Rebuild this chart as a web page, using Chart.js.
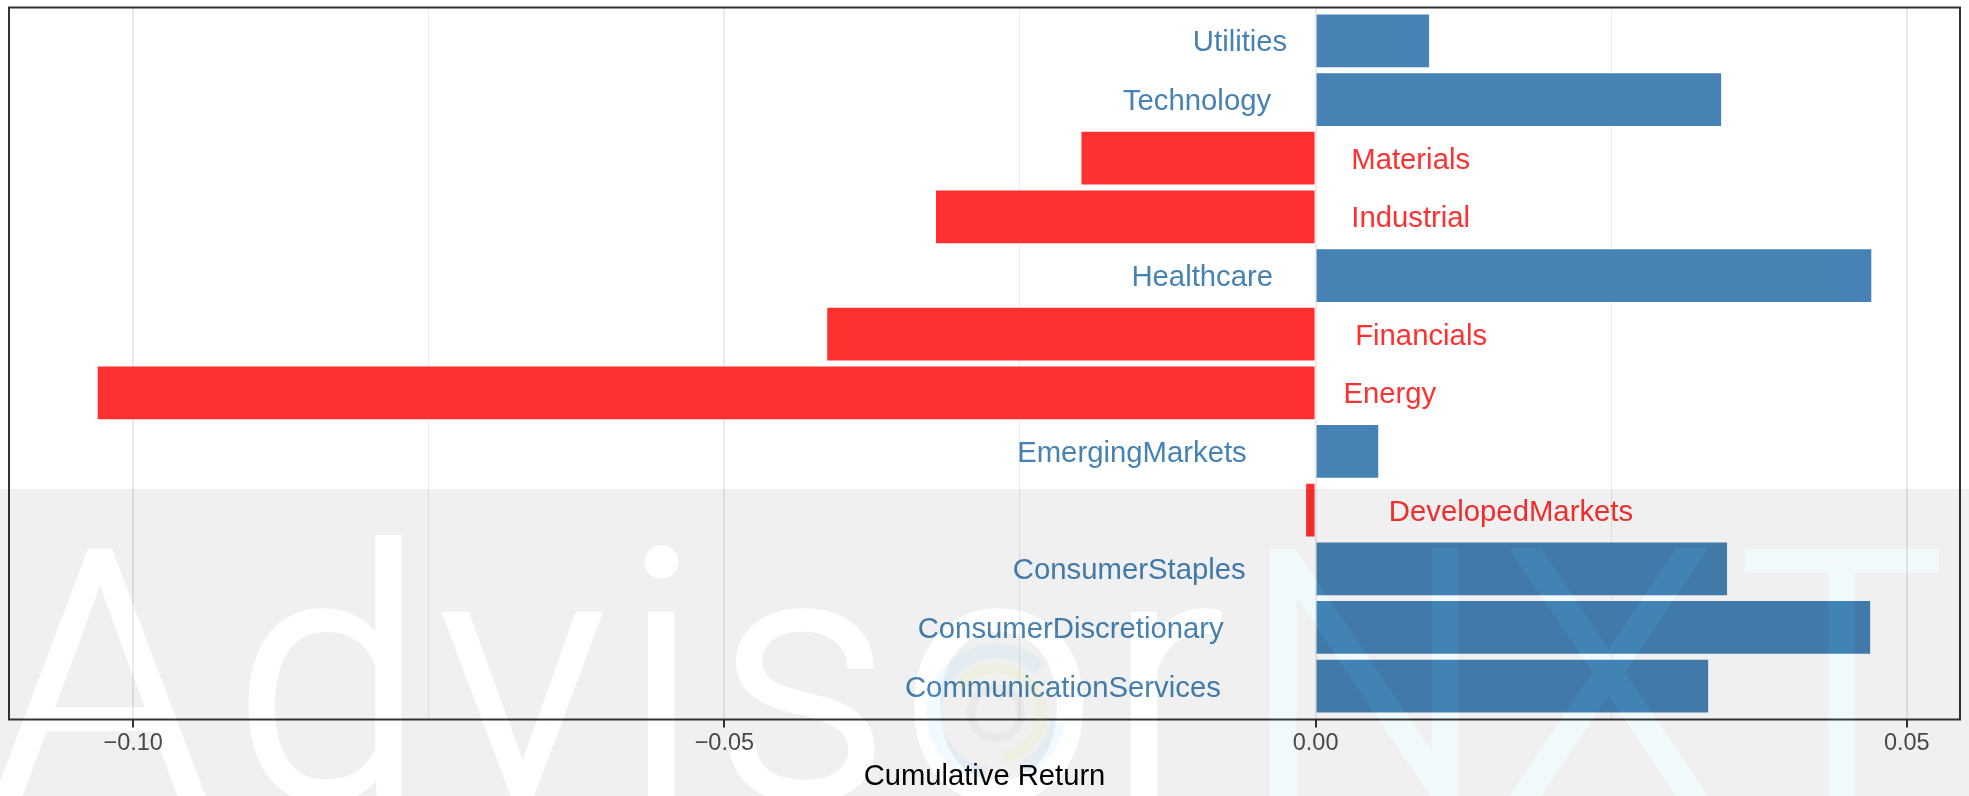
<!DOCTYPE html>
<html>
<head>
<meta charset="utf-8">
<script src="https://cdn.jsdelivr.net/npm/chart.js@4.4.1/dist/chart.umd.min.js"></script>
<style>
  html, body { margin: 0; padding: 0; background: #ffffff; overflow: hidden; }
  #wrap { width: 1969px; height: 796px; position: relative; }
  canvas { display: block; }
</style>
</head>
<body>
<div id="wrap"><canvas id="chart" width="1969" height="796"></canvas></div>
<script>
// ---------------- data ----------------
const categories = [
  'Utilities', 'Technology', 'Materials', 'Industrial', 'Healthcare', 'Financials',
  'Energy', 'EmergingMarkets', 'DevelopedMarkets', 'ConsumerStaples',
  'ConsumerDiscretionary', 'CommunicationServices'
];
const cumulativeReturns = [
  0.0096, 0.0343, -0.0198, -0.0321, 0.0470, -0.0413,
  -0.1030, 0.0053, -0.0008, 0.0348, 0.0469, 0.0332
];
const tickValues = [-0.10, -0.075, -0.05, -0.025, 0.00, 0.025, 0.05];
const tickLabels = ['\u22120.10', '', '\u22120.05', '', '0.00', '', '0.05'];
const axisTitle = 'Cumulative Return';

// ---------------- style ----------------
const POS_COLOR = '#4682B4';
const NEG_COLOR = '#FF3030';
const FONT = '"Liberation Sans", Arial, Helvetica, sans-serif';
const LABEL_SIZE = 29.3;

const barLabels = {
  id: 'barLabels',
  afterDatasetsDraw(chart) {
    const ctx = chart.ctx;
    const meta = chart.getDatasetMeta(0);
    const x0 = chart.scales.x.getPixelForValue(0);
    ctx.save();
    ctx.font = LABEL_SIZE + 'px ' + FONT;
    ctx.textBaseline = 'alphabetic';
    meta.data.forEach((bar, i) => {
      const v = cumulativeReturns[i];
      const txt = categories[i];
      const w = ctx.measureText(txt).width;
      const y = bar.y + 0.358 * LABEL_SIZE;
      if (v >= 0) {
        ctx.textAlign = 'right';
        ctx.fillStyle = POS_COLOR;
        ctx.fillText(txt, x0 - 0.3 * w, y);
      } else {
        ctx.textAlign = 'left';
        ctx.fillStyle = NEG_COLOR;
        ctx.fillText(txt, x0 + 0.3 * w, y);
      }
    });
    // panel border
    const a = chart.chartArea;
    ctx.strokeStyle = '#333333';
    ctx.lineWidth = 2;
    ctx.strokeRect(a.left, a.top, a.right - a.left, a.bottom - a.top);
    ctx.restore();
  }
};

// watermark overlay (decoration)
const WM_LETTERS = ['A', 'd', 'v', 'i', 's', 'o', 'r', 'N', 'X', 'T'];
const WM_CENTERS = [100, 325, 523, 660, 802, 999, 1175, 1363, 1608, 1841];
const WM_FONT = '300 345px Roboto, "Liberation Sans", sans-serif';
const WM_BASE = 797;
const BAND_TOP = 489;

const watermark = {
  id: 'watermark',
  afterDraw(chart) {
    const ctx = chart.ctx;
    const W = chart.width, H = chart.height;
    const off = document.createElement('canvas');
    off.width = W; off.height = H;
    const o = off.getContext('2d');
    o.fillStyle = '#000';
    o.fillRect(0, BAND_TOP, W, H - BAND_TOP);
    o.globalCompositeOperation = 'destination-out';
    o.font = WM_FONT;
    o.textAlign = 'left';
    o.textBaseline = 'alphabetic';
    o.lineWidth = 6;
    o.strokeStyle = '#000';
    const xs = WM_LETTERS.map((ch, i) => {
      const m = o.measureText(ch);
      return WM_CENTERS[i] - (m.actualBoundingBoxRight - m.actualBoundingBoxLeft) / 2;
    });
    WM_LETTERS.forEach((ch, i) => { o.fillText(ch, xs[i], WM_BASE); o.strokeText(ch, xs[i], WM_BASE); });
    ctx.save();
    ctx.globalAlpha = 0.057;
    ctx.drawImage(off, 0, 0);
    ctx.globalAlpha = 1;
    // NXT tint
    const t = document.createElement('canvas');
    t.width = W; t.height = H;
    const tc = t.getContext('2d');
    tc.font = WM_FONT;
    tc.textAlign = 'left';
    tc.textBaseline = 'alphabetic';
    tc.fillStyle = 'rgb(5,155,205)';
    tc.strokeStyle = 'rgb(5,155,205)';
    tc.lineWidth = 6;
    for (let i = 7; i < 10; i++) { tc.fillText(WM_LETTERS[i], xs[i], WM_BASE); tc.strokeText(WM_LETTERS[i], xs[i], WM_BASE); }
    ctx.globalAlpha = 0.06;
    ctx.drawImage(t, 0, 0);
    ctx.globalAlpha = 1;
    // logo rings inside the "o"
    const cx = 996, cy = 713;
    ctx.lineCap = 'butt';
    ctx.lineWidth = 15;
    ctx.strokeStyle = 'rgba(0,170,230,0.055)';
    ctx.beginPath(); ctx.arc(cx, cy, 62, Math.PI * 0.55, Math.PI * 1.75); ctx.stroke();
    ctx.beginPath(); ctx.arc(cx, cy, 62, Math.PI * 0.05, Math.PI * 0.35); ctx.stroke();
    ctx.lineWidth = 12;
    ctx.strokeStyle = 'rgba(200,235,60,0.09)';
    ctx.beginPath(); ctx.arc(cx, cy, 45, Math.PI * 1.2, Math.PI * 2.45); ctx.stroke();
    ctx.lineWidth = 9;
    ctx.strokeStyle = 'rgba(0,0,0,0.03)';
    ctx.beginPath(); ctx.arc(cx, cy, 25, 0, Math.PI * 2); ctx.stroke();
    ctx.restore();
  }
};

new Chart(document.getElementById('chart'), {
  type: 'bar',
  data: {
    datasets: [{
      data: cumulativeReturns.map((v, i) => ({ x: v, y: i })),
      backgroundColor: cumulativeReturns.map(v => v >= 0 ? POS_COLOR : NEG_COLOR),
      borderWidth: 0,
      barPercentage: 0.9,
      categoryPercentage: 1.0
    }]
  },
  options: {
    indexAxis: 'y',
    responsive: false,
    animation: false,
    devicePixelRatio: 1,
    layout: { padding: { left: 9, right: 9, top: 7.5, bottom: 0 } },
    plugins: { legend: { display: false }, tooltip: { enabled: false } },
    scales: {
      x: {
        type: 'linear',
        min: -0.1105,
        max: 0.0545,
        afterBuildTicks: s => { s.ticks = tickValues.map(v => ({ value: v })); },
        afterFit: s => { s.height = 76.5; },
        border: { display: false },
        grid: {
          drawOnChartArea: true,
          color: '#EBEBEB',
          lineWidth: c => (tickLabels[c.index] ? 2 : 1),
          tickLength: 8,
          tickWidth: 2,
          tickColor: c => (tickLabels[c.index] ? '#333333' : 'rgba(0,0,0,0)')
        },
        ticks: {
          autoSkip: false,
          maxRotation: 0,
          padding: 2,
          color: '#4D4D4D',
          font: { family: FONT, size: 23.5 },
          callback: (v, i) => tickLabels[i]
        },
        title: {
          display: true,
          text: axisTitle,
          color: '#000000',
          font: { family: FONT, size: 29.2 },
          padding: { top: 2, bottom: 2 }
        }
      },
      y: {
        type: 'linear',
        min: -0.57,
        max: categories.length - 1 + 0.57,
        reverse: true,
        offset: false,
        grace: 0,
        display: false,
        afterBuildTicks: s => { s.ticks = categories.map((c, i) => ({ value: i })); },
        grid: { display: false }
      }
    }
  },
  plugins: [barLabels, watermark]
});
</script>
</body>
</html>
